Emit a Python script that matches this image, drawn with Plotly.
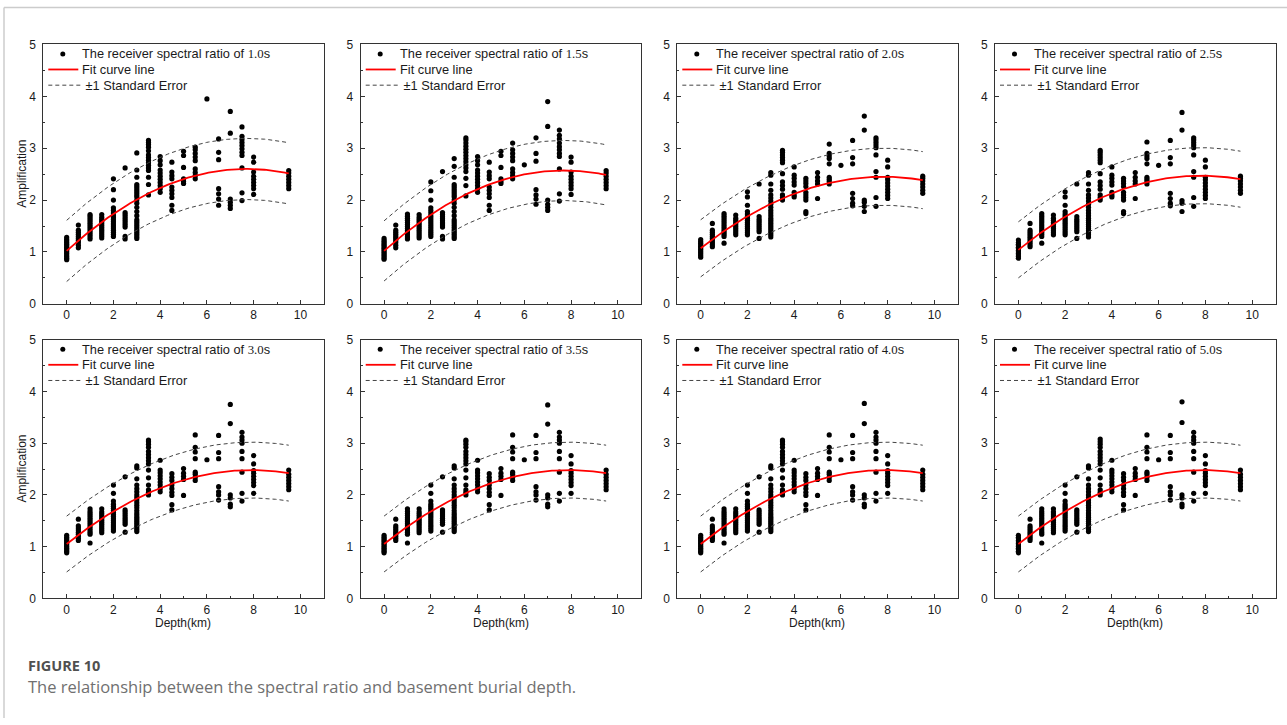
import numpy as np
import plotly.graph_objects as go

W, H = 1287, 725

PERIODS = ["1.0", "1.5", "2.0", "2.5", "3.0", "3.5", "4.0", "5.0"]
DEPTHS = [0, 0.5, 1, 1.5, 2, 2.5, 3, 3.5, 4, 4.5, 5, 5.5, 6, 6.5, 7, 7.5, 8, 9.5]

# amplification values, one list per depth (same order as DEPTHS)
AMP_1_0 = [
    [0.85, 0.88, 0.91, 0.94, 0.97, 1.00, 1.03, 1.06, 1.09, 1.12, 1.15, 1.18, 1.21, 1.24, 1.28],
    [1.08, 1.13, 1.18, 1.22, 1.26, 1.30, 1.34, 1.38, 1.42, 1.52],
    [1.25, 1.29, 1.33, 1.37, 1.41, 1.45, 1.49, 1.53, 1.57, 1.61, 1.65, 1.69, 1.72],
    [1.27, 1.31, 1.35, 1.39, 1.43, 1.47, 1.51, 1.55, 1.59, 1.63, 1.67, 1.72],
    [1.30, 1.34, 1.38, 1.42, 1.46, 1.50, 1.54, 1.58, 1.62, 1.66, 1.70, 1.75, 1.80, 1.85, 2.00, 2.20, 2.41],
    [1.25, 1.30, 1.48, 1.52, 1.56, 1.60, 1.64, 1.68, 1.72, 1.76, 2.62],
    [1.26, 1.30, 1.34, 1.38, 1.42, 1.46, 1.50, 1.54, 1.58, 1.62, 1.70, 1.78, 1.86, 1.94, 2.00, 2.06, 2.10, 2.14, 2.18, 2.22, 2.26, 2.30, 2.44, 2.58, 2.91],
    [2.10, 2.30, 2.44, 2.57, 2.62, 2.67, 2.72, 2.77, 2.82, 2.87, 2.95, 3.02, 3.07, 3.11, 3.15],
    [2.15, 2.22, 2.28, 2.34, 2.40, 2.46, 2.52, 2.58, 2.68, 2.76, 2.84],
    [1.80, 1.90, 2.05, 2.12, 2.19, 2.25, 2.41, 2.47, 2.54, 2.73],
    [2.32, 2.36, 2.41, 2.63, 2.86, 2.94],
    [2.41, 2.47, 2.53, 2.60, 2.76, 2.83, 2.90, 2.97, 3.02],
    [3.95],
    [1.90, 2.02, 2.12, 2.22, 2.78, 2.92, 3.18],
    [1.84, 1.90, 1.96, 2.02, 3.29, 3.71],
    [1.99, 2.14, 2.62, 2.86, 2.92, 2.99, 3.05, 3.11, 3.17, 3.23, 3.41],
    [2.11, 2.22, 2.28, 2.34, 2.40, 2.46, 2.54, 2.73, 2.83],
    [2.22, 2.28, 2.34, 2.40, 2.46, 2.52, 2.57],
]

AMP_1_5 = [
    [0.86, 0.89, 0.92, 0.95, 0.98, 1.01, 1.04, 1.07, 1.10, 1.13, 1.16, 1.19, 1.22, 1.26],
    [1.08, 1.13, 1.18, 1.22, 1.26, 1.30, 1.34, 1.38, 1.42, 1.52],
    [1.25, 1.29, 1.33, 1.37, 1.41, 1.45, 1.49, 1.53, 1.57, 1.61, 1.65, 1.69, 1.73],
    [1.27, 1.31, 1.35, 1.39, 1.43, 1.47, 1.51, 1.55, 1.59, 1.63, 1.67, 1.72],
    [1.30, 1.34, 1.38, 1.42, 1.46, 1.50, 1.54, 1.58, 1.62, 1.66, 1.70, 1.75, 1.80, 1.85, 2.00, 2.18, 2.35],
    [1.25, 1.30, 1.48, 1.52, 1.56, 1.60, 1.64, 1.68, 1.72, 1.76, 2.55],
    [1.26, 1.30, 1.34, 1.38, 1.42, 1.46, 1.50, 1.54, 1.58, 1.62, 1.70, 1.78, 1.86, 1.94, 2.00, 2.06, 2.10, 2.14, 2.18, 2.22, 2.26, 2.30, 2.44, 2.65, 2.80],
    [2.08, 2.28, 2.42, 2.55, 2.62, 2.68, 2.74, 2.80, 2.86, 2.92, 2.98, 3.04, 3.10, 3.16, 3.20],
    [2.15, 2.22, 2.28, 2.34, 2.40, 2.46, 2.52, 2.58, 2.68, 2.76, 2.84],
    [1.80, 1.90, 2.05, 2.12, 2.19, 2.25, 2.41, 2.47, 2.54, 2.73],
    [2.32, 2.36, 2.41, 2.63, 2.86, 2.94],
    [2.41, 2.47, 2.53, 2.60, 2.76, 2.83, 2.90, 2.97, 3.10],
    [2.68],
    [1.92, 2.02, 2.10, 2.20, 2.75, 2.90, 3.20],
    [1.80, 1.86, 1.92, 2.00, 3.42, 3.90],
    [1.98, 2.12, 2.60, 2.84, 2.90, 2.97, 3.03, 3.10, 3.18, 3.25, 3.35],
    [2.11, 2.22, 2.28, 2.34, 2.40, 2.46, 2.54, 2.73, 2.83],
    [2.22, 2.28, 2.34, 2.40, 2.46, 2.52, 2.57],
]

AMP_2_0 = [
    [0.90, 0.93, 0.96, 0.99, 1.02, 1.05, 1.08, 1.11, 1.14, 1.17, 1.20, 1.24],
    [1.10, 1.14, 1.18, 1.22, 1.26, 1.30, 1.34, 1.38, 1.42, 1.55],
    [1.17, 1.30, 1.34, 1.38, 1.42, 1.46, 1.50, 1.54, 1.58, 1.62, 1.66, 1.70, 1.74],
    [1.33, 1.37, 1.41, 1.45, 1.49, 1.53, 1.57, 1.61, 1.65, 1.71],
    [1.33, 1.37, 1.41, 1.45, 1.49, 1.53, 1.57, 1.61, 1.65, 1.69, 1.73, 1.78, 1.90, 2.06, 2.16],
    [1.26, 1.39, 1.43, 1.47, 1.51, 1.55, 1.59, 1.63, 1.68, 2.31],
    [1.29, 1.33, 1.37, 1.41, 1.45, 1.49, 1.53, 1.57, 1.61, 1.65, 1.70, 1.75, 1.80, 1.86, 1.92, 1.98, 2.04, 2.10, 2.19, 2.31, 2.48, 2.53],
    [2.00, 2.05, 2.10, 2.21, 2.28, 2.35, 2.51, 2.72, 2.77, 2.82, 2.87, 2.92, 2.96],
    [2.06, 2.10, 2.15, 2.29, 2.35, 2.42, 2.48, 2.64],
    [1.74, 1.78, 2.00, 2.05, 2.10, 2.15, 2.26, 2.32, 2.37, 2.42],
    [2.03, 2.31, 2.37, 2.44, 2.53],
    [2.31, 2.36, 2.40, 2.44, 2.70, 2.80, 2.85, 2.90, 3.08],
    [2.67],
    [1.89, 1.94, 2.03, 2.13, 2.70, 2.82, 3.15],
    [1.78, 1.88, 1.96, 2.00, 3.35, 3.62],
    [1.88, 2.05, 2.44, 2.55, 2.87, 3.01, 3.06, 3.11, 3.16, 3.20],
    [2.03, 2.09, 2.15, 2.21, 2.27, 2.33, 2.39, 2.44, 2.64, 2.77],
    [2.13, 2.19, 2.25, 2.31, 2.37, 2.42, 2.46],
]

AMP_2_5 = [
    [0.88, 0.91, 0.94, 0.97, 1.00, 1.03, 1.06, 1.09, 1.12, 1.15, 1.18, 1.23],
    [1.10, 1.14, 1.18, 1.22, 1.26, 1.30, 1.34, 1.38, 1.42, 1.55],
    [1.17, 1.30, 1.34, 1.38, 1.42, 1.46, 1.50, 1.54, 1.58, 1.62, 1.66, 1.70, 1.74],
    [1.33, 1.37, 1.41, 1.45, 1.49, 1.53, 1.57, 1.61, 1.65, 1.71],
    [1.33, 1.37, 1.41, 1.45, 1.49, 1.53, 1.57, 1.61, 1.65, 1.69, 1.73, 1.78, 1.90, 2.06, 2.16],
    [1.26, 1.39, 1.43, 1.47, 1.51, 1.55, 1.59, 1.63, 1.68, 2.31],
    [1.29, 1.33, 1.37, 1.41, 1.45, 1.49, 1.53, 1.57, 1.61, 1.65, 1.70, 1.75, 1.80, 1.86, 1.92, 1.98, 2.04, 2.10, 2.19, 2.31, 2.48, 2.53],
    [2.00, 2.05, 2.10, 2.21, 2.28, 2.35, 2.51, 2.72, 2.77, 2.82, 2.87, 2.92, 2.96],
    [2.06, 2.10, 2.15, 2.29, 2.35, 2.42, 2.48, 2.64],
    [1.74, 1.78, 2.00, 2.05, 2.10, 2.15, 2.26, 2.32, 2.37, 2.42],
    [2.03, 2.31, 2.37, 2.44, 2.53],
    [2.31, 2.36, 2.40, 2.44, 2.70, 2.80, 2.85, 2.90, 3.12],
    [2.67],
    [1.89, 1.94, 2.03, 2.13, 2.70, 2.82, 3.15],
    [1.78, 1.94, 1.99, 3.35, 3.69],
    [1.88, 2.05, 2.44, 2.55, 2.87, 3.01, 3.06, 3.11, 3.16, 3.20],
    [2.03, 2.09, 2.15, 2.21, 2.27, 2.33, 2.39, 2.44, 2.64, 2.77],
    [2.13, 2.19, 2.25, 2.31, 2.37, 2.42, 2.46],
]

AMP_3_0 = [
    [0.88, 0.91, 0.94, 0.97, 1.00, 1.03, 1.06, 1.09, 1.12, 1.15, 1.18, 1.22],
    [1.12, 1.16, 1.20, 1.24, 1.28, 1.32, 1.36, 1.40, 1.53],
    [1.07, 1.24, 1.28, 1.32, 1.36, 1.40, 1.44, 1.48, 1.52, 1.56, 1.60, 1.64, 1.68, 1.73],
    [1.27, 1.31, 1.35, 1.39, 1.43, 1.47, 1.51, 1.55, 1.59, 1.63, 1.67, 1.73],
    [1.30, 1.34, 1.38, 1.42, 1.46, 1.50, 1.54, 1.58, 1.62, 1.66, 1.70, 1.74, 1.78, 1.82, 1.88, 2.03, 2.19],
    [1.28, 1.43, 1.47, 1.51, 1.55, 1.59, 1.63, 1.67, 1.71, 2.35],
    [1.29, 1.33, 1.37, 1.41, 1.45, 1.49, 1.53, 1.57, 1.61, 1.65, 1.70, 1.75, 1.80, 1.85, 1.90, 1.95, 2.00, 2.06, 2.12, 2.19, 2.31, 2.52, 2.56],
    [2.00, 2.05, 2.10, 2.19, 2.33, 2.48, 2.60, 2.66, 2.72, 2.78, 2.84, 2.92, 2.98, 3.03, 3.06],
    [2.06, 2.12, 2.19, 2.25, 2.31, 2.37, 2.43, 2.48, 2.67],
    [1.71, 1.81, 1.99, 2.05, 2.12, 2.19, 2.28, 2.34, 2.41],
    [1.99, 2.30, 2.36, 2.42, 2.51],
    [2.28, 2.34, 2.40, 2.44, 2.70, 2.83, 2.92, 3.16],
    [2.68],
    [1.90, 2.00, 2.06, 2.16, 2.70, 2.82, 3.15],
    [1.77, 1.82, 1.94, 2.00, 3.38, 3.75],
    [1.88, 2.03, 2.44, 2.70, 2.84, 3.00, 3.06, 3.12, 3.21],
    [2.03, 2.18, 2.24, 2.30, 2.36, 2.42, 2.47, 2.60, 2.76],
    [2.10, 2.16, 2.22, 2.28, 2.34, 2.40, 2.48],
]

AMP_3_5 = [
    [0.88, 0.91, 0.94, 0.97, 1.00, 1.03, 1.06, 1.09, 1.12, 1.15, 1.18, 1.22],
    [1.12, 1.16, 1.20, 1.24, 1.28, 1.32, 1.36, 1.40, 1.53],
    [1.07, 1.24, 1.28, 1.32, 1.36, 1.40, 1.44, 1.48, 1.52, 1.56, 1.60, 1.64, 1.68, 1.73],
    [1.27, 1.31, 1.35, 1.39, 1.43, 1.47, 1.51, 1.55, 1.59, 1.63, 1.67, 1.73],
    [1.30, 1.34, 1.38, 1.42, 1.46, 1.50, 1.54, 1.58, 1.62, 1.66, 1.70, 1.74, 1.78, 1.82, 1.88, 2.03, 2.19],
    [1.28, 1.43, 1.47, 1.51, 1.55, 1.59, 1.63, 1.67, 1.71, 2.35],
    [1.29, 1.33, 1.37, 1.41, 1.45, 1.49, 1.53, 1.57, 1.61, 1.65, 1.70, 1.75, 1.80, 1.85, 1.90, 1.95, 2.00, 2.06, 2.12, 2.19, 2.31, 2.52, 2.56],
    [2.00, 2.05, 2.10, 2.19, 2.33, 2.48, 2.60, 2.66, 2.72, 2.78, 2.84, 2.92, 2.98, 3.03, 3.06],
    [2.06, 2.12, 2.19, 2.25, 2.31, 2.37, 2.43, 2.48, 2.67],
    [1.71, 1.81, 1.99, 2.05, 2.12, 2.19, 2.28, 2.34, 2.41],
    [1.99, 2.30, 2.36, 2.42, 2.51],
    [2.28, 2.34, 2.40, 2.44, 2.70, 2.83, 2.92, 3.16],
    [2.68],
    [1.90, 2.00, 2.06, 2.16, 2.70, 2.82, 3.15],
    [1.77, 1.82, 1.94, 2.00, 3.37, 3.74],
    [1.88, 2.03, 2.44, 2.70, 2.84, 3.00, 3.06, 3.12, 3.21],
    [2.03, 2.18, 2.24, 2.30, 2.36, 2.42, 2.47, 2.60, 2.76],
    [2.10, 2.16, 2.22, 2.28, 2.34, 2.40, 2.48],
]

AMP_4_0 = [
    [0.88, 0.91, 0.94, 0.97, 1.00, 1.03, 1.06, 1.09, 1.12, 1.15, 1.18, 1.22],
    [1.12, 1.16, 1.20, 1.24, 1.28, 1.32, 1.36, 1.40, 1.53],
    [1.07, 1.24, 1.28, 1.32, 1.36, 1.40, 1.44, 1.48, 1.52, 1.56, 1.60, 1.64, 1.68, 1.73],
    [1.27, 1.31, 1.35, 1.39, 1.43, 1.47, 1.51, 1.55, 1.59, 1.63, 1.67, 1.73],
    [1.30, 1.34, 1.38, 1.42, 1.46, 1.50, 1.54, 1.58, 1.62, 1.66, 1.70, 1.74, 1.78, 1.82, 1.88, 2.03, 2.19],
    [1.28, 1.43, 1.47, 1.51, 1.55, 1.59, 1.63, 1.67, 1.71, 2.35],
    [1.29, 1.33, 1.37, 1.41, 1.45, 1.49, 1.53, 1.57, 1.61, 1.65, 1.70, 1.75, 1.80, 1.85, 1.90, 1.95, 2.00, 2.06, 2.12, 2.19, 2.31, 2.52, 2.56],
    [2.00, 2.05, 2.10, 2.19, 2.33, 2.48, 2.60, 2.66, 2.72, 2.78, 2.84, 2.92, 2.98, 3.03, 3.06],
    [2.06, 2.12, 2.19, 2.25, 2.31, 2.37, 2.43, 2.48, 2.67],
    [1.71, 1.81, 1.99, 2.05, 2.12, 2.19, 2.28, 2.34, 2.41],
    [1.99, 2.30, 2.36, 2.42, 2.51],
    [2.28, 2.34, 2.40, 2.44, 2.70, 2.83, 2.92, 3.16],
    [2.68],
    [1.90, 2.00, 2.06, 2.16, 2.70, 2.82, 3.15],
    [1.77, 1.82, 1.94, 2.00, 3.38, 3.77],
    [1.88, 2.03, 2.44, 2.70, 2.84, 3.00, 3.06, 3.12, 3.21],
    [2.03, 2.18, 2.24, 2.30, 2.36, 2.42, 2.47, 2.60, 2.76],
    [2.10, 2.16, 2.22, 2.28, 2.34, 2.40, 2.48],
]

AMP_5_0 = [
    [0.88, 0.91, 0.94, 0.97, 1.00, 1.03, 1.06, 1.09, 1.12, 1.15, 1.18, 1.22],
    [1.12, 1.16, 1.20, 1.24, 1.28, 1.32, 1.36, 1.40, 1.53],
    [1.07, 1.24, 1.28, 1.32, 1.36, 1.40, 1.44, 1.48, 1.52, 1.56, 1.60, 1.64, 1.68, 1.73],
    [1.27, 1.31, 1.35, 1.39, 1.43, 1.47, 1.51, 1.55, 1.59, 1.63, 1.67, 1.73],
    [1.30, 1.34, 1.38, 1.42, 1.46, 1.50, 1.54, 1.58, 1.62, 1.66, 1.70, 1.74, 1.78, 1.82, 1.88, 2.03, 2.19],
    [1.28, 1.43, 1.47, 1.51, 1.55, 1.59, 1.63, 1.67, 1.71, 2.35],
    [1.29, 1.33, 1.37, 1.41, 1.45, 1.49, 1.53, 1.57, 1.61, 1.65, 1.70, 1.75, 1.80, 1.85, 1.90, 1.95, 2.00, 2.06, 2.12, 2.19, 2.31, 2.52, 2.56],
    [2.00, 2.05, 2.10, 2.19, 2.33, 2.48, 2.60, 2.66, 2.72, 2.78, 2.84, 2.92, 2.98, 3.03, 3.08],
    [2.06, 2.12, 2.19, 2.25, 2.31, 2.37, 2.43, 2.48, 2.67],
    [1.71, 1.81, 1.99, 2.05, 2.12, 2.19, 2.28, 2.34, 2.41],
    [1.99, 2.30, 2.36, 2.42, 2.51],
    [2.28, 2.34, 2.40, 2.44, 2.70, 2.83, 2.92, 3.16],
    [2.68],
    [1.90, 2.00, 2.06, 2.16, 2.70, 2.82, 3.15],
    [1.77, 1.82, 1.94, 2.00, 3.40, 3.80],
    [1.88, 2.03, 2.44, 2.70, 2.84, 3.00, 3.06, 3.12, 3.21],
    [2.03, 2.18, 2.24, 2.30, 2.36, 2.42, 2.47, 2.60, 2.76],
    [2.10, 2.16, 2.22, 2.28, 2.34, 2.40, 2.48],
]

AMPS = [AMP_1_0, AMP_1_5, AMP_2_0, AMP_2_5, AMP_3_0, AMP_3_5, AMP_4_0, AMP_5_0]

# quadratic fit  y = a + b*x + c*x^2  and its standard error, per panel
FIT_A = [1.02, 1.02, 1.07, 1.04, 1.05, 1.05, 1.05, 1.05]
FIT_B = [0.4104, 0.4026, 0.3538, 0.3667, 0.362, 0.362, 0.362, 0.362]
FIT_C = [-0.02665, -0.02614, -0.02268, -0.0235, -0.02291, -0.02291, -0.02291, -0.02291]
FIT_SE = [0.59, 0.58, 0.55, 0.54, 0.54, 0.54, 0.54, 0.54]
FIT_XMIN, FIT_XMAX = 0.0, 9.5

X_TICKS = [0, 2, 4, 6, 8, 10]
Y_TICKS = [0, 1, 2, 3, 4, 5]

# ---------------- layout geometry (pixels) ----------------
# the page is shown with a small vertical offset/compression; compensate
VS = 0.981
VOFF = 5.8


def py(px):
    return (px - VOFF) / VS


COL_LEFT = [43.3, 360.7, 677.3, 995.0]
PANEL_W = 280.5
ROW_TOP = [py(43.3), py(338.7)]
ROW_BOT = [py(302.7), py(597.3)]

AX_COLOR = "#333333"
TXT_COLOR = "#1a1a1a"
FONT = "Arial, 'Liberation Sans', sans-serif"

fig = go.Figure()
shapes = []
annotations = []

xfit = np.linspace(FIT_XMIN, FIT_XMAX, 120)

for i, per in enumerate(PERIODS):
    r, c = divmod(i, 4)
    n = i + 1
    xa = "x" if n == 1 else f"x{n}"
    ya = "y" if n == 1 else f"y{n}"
    xs, ys = [], []
    for d, vals in zip(DEPTHS, AMPS[i]):
        xs.extend([d] * len(vals))
        ys.extend(vals)
    fig.add_trace(go.Scatter(x=xs, y=ys, mode="markers", xaxis=xa, yaxis=ya,
                             marker=dict(color="black", size=5.2, line=dict(width=0)),
                             showlegend=False,
                             name=f"The receiver spectral ratio of {per}s"))
    yfit = FIT_A[i] + FIT_B[i] * xfit + FIT_C[i] * xfit ** 2
    for sgn in (1, -1):
        fig.add_trace(go.Scatter(x=xfit, y=yfit + sgn * FIT_SE[i], mode="lines",
                                 xaxis=xa, yaxis=ya, showlegend=False,
                                 line=dict(color="#444444", width=1, dash="4px,3px"),
                                 name="±1 Standard Error"))
    fig.add_trace(go.Scatter(x=xfit, y=yfit, mode="lines", xaxis=xa, yaxis=ya,
                             showlegend=False, line=dict(color="#ff0000", width=1.8),
                             name="Fit curve line"))

    x0p = COL_LEFT[c]
    panel_h = ROW_BOT[r] - ROW_TOP[r]
    dom_x = [x0p / W, (x0p + PANEL_W) / W]
    dom_y = [1 - ROW_BOT[r] / H, 1 - ROW_TOP[r] / H]
    axis_common = dict(showgrid=False, zeroline=False, showline=True, linecolor=AX_COLOR,
                       linewidth=1, mirror=True, ticks="inside", ticklen=4, tickwidth=1,
                       tickcolor=AX_COLOR, tickfont=dict(family=FONT, size=12, color=TXT_COLOR))
    fig.update_layout(**{
        ("xaxis" if n == 1 else f"xaxis{n}"): dict(
            domain=dom_x, anchor=ya, range=[-1, 11], tickmode="array", tickvals=X_TICKS,
            minor=dict(tickmode="linear", tick0=-1, dtick=2, ticks="inside", ticklen=2,
                       tickcolor=AX_COLOR, tickwidth=1), **axis_common),
        ("yaxis" if n == 1 else f"yaxis{n}"): dict(
            domain=dom_y, anchor=xa, range=[0, 5], tickmode="array", tickvals=Y_TICKS,
            ticklabelstandoff=4,
            minor=dict(tickmode="linear", tick0=0.5, dtick=1, ticks="inside", ticklen=2,
                       tickcolor=AX_COLOR, tickwidth=1), **axis_common),
    })

    # in-panel legend
    xd = xa + " domain"
    yd = ya + " domain"

    def dx(px):
        return px / PANEL_W

    def dy(px, ph=panel_h):
        return 1 - (px / VS) / ph

    rows_px = [9.4, 25.0, 40.7]
    shapes.append(dict(type="circle", xref=xd, yref=yd, xsizemode="pixel", ysizemode="pixel",
                       xanchor=dx(19.5), yanchor=dy(rows_px[0]), x0=-2.5, x1=2.5, y0=-2.5, y1=2.5,
                       fillcolor="black", line=dict(width=0)))
    shapes.append(dict(type="line", xref=xd, yref=yd, x0=dx(5), x1=dx(35), y0=dy(rows_px[1]),
                       y1=dy(rows_px[1]), line=dict(color="#ff0000", width=1.8)))
    shapes.append(dict(type="line", xref=xd, yref=yd, x0=dx(5), x1=dx(37), y0=dy(rows_px[2]),
                       y1=dy(rows_px[2]), line=dict(color="#444444", width=1, dash="4px,3px")))
    legend_texts = [
        f"The receiver spectral ratio of <span style='font-family:Liberation Serif, Times New Roman, serif'>{per}</span>s",
        "Fit curve line",
        " ±1 Standard Error",
    ]
    for t, ry in zip(legend_texts, rows_px):
        annotations.append(dict(text=t, xref=xd, yref=yd, x=dx(37), y=dy(ry), xanchor="left",
                                yanchor="middle", showarrow=False,
                                font=dict(family=FONT, size=12.8, color=TXT_COLOR)))

    # axis titles
    if c == 0:
        annotations.append(dict(text="Amplification", xref="paper", yref=yd, x=22.5 / W, y=0.5,
                                textangle=-90, showarrow=False, xanchor="center", yanchor="middle",
                                font=dict(family=FONT, size=12, color=TXT_COLOR)))
    if r == 1:
        annotations.append(dict(text="Depth(km)", xref=xd, yref="paper", x=(66.7 - 43.3 + 116.7) / PANEL_W,
                                y=1 - py(621.5) / H, showarrow=False, xanchor="center", yanchor="middle",
                                font=dict(family=FONT, size=12, color=TXT_COLOR)))

# page frame lines
top_y = 1 - max(py(5), 0.6) / H
shapes.append(dict(type="line", xref="paper", yref="paper", x0=4 / W, x1=1, y0=top_y, y1=top_y,
                   line=dict(color="#cccccc", width=1.5)))
shapes.append(dict(type="line", xref="paper", yref="paper", x0=4 / W, x1=4 / W, y0=0, y1=top_y,
                   line=dict(color="#cccccc", width=1.5)))

# caption
CAPTION_TITLE = "FIGURE 10"
CAPTION_TEXT = "The relationship between the spectral ratio and basement burial depth."
annotations.append(dict(text=f"<b>{CAPTION_TITLE}</b>", xref="paper", yref="paper",
                        x=26 / W, y=1 - py(664.5) / H, xanchor="left", yanchor="middle",
                        showarrow=False,
                        font=dict(family="'Open Sans', sans-serif", size=14.5, color="#505050")))
annotations.append(dict(text=CAPTION_TEXT, xref="paper", yref="paper",
                        x=26 / W, y=1 - py(686) / H, xanchor="left", yanchor="middle",
                        showarrow=False,
                        font=dict(family="'Open Sans', sans-serif", size=16.5, color="#707070")))

fig.update_layout(width=W, height=H, margin=dict(l=0, r=0, t=0, b=0),
                  paper_bgcolor="white", plot_bgcolor="white", showlegend=False,
                  shapes=shapes, annotations=annotations)

fig.write_html("out.html")
